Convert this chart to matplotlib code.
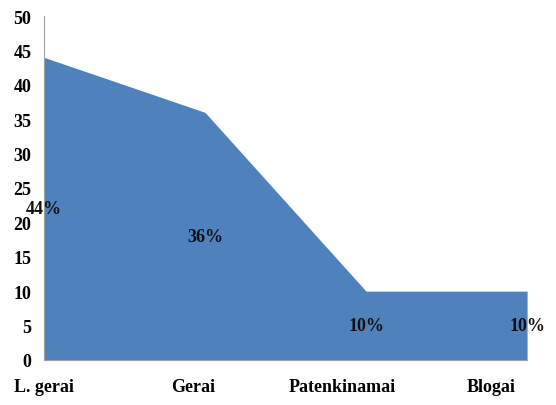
import matplotlib
matplotlib.use('Agg')
import matplotlib.pyplot as plt
import matplotlib.transforms as mtransforms

categories = ['L. gerai', 'Gerai', 'Patenkinamai', 'Blogai']
values = [44, 36, 10, 10]
labels = ['44%', '36%', '10%', '10%']

plt.rcParams['font.family'] = ['Liberation Serif', 'DejaVu Serif']

fig = plt.figure(figsize=(5.56, 4.06), dpi=100)
ax = fig.add_axes([0.079, 0.111, 0.869, 0.847])

x = list(range(len(categories)))
ax.fill_between(x, values, 0, color='#4F81BD', linewidth=0)

# labels sit in the middle of the area
for xi, v, t in zip(x, values, labels):
    ax.text(xi, v / 2, t, ha='center', va='center', fontsize=13,
            fontweight='bold', color='#111111')

ax.set_xlim(0, 3)
ax.set_ylim(0, 50)
ax.set_yticks(range(0, 51, 5))
ax.set_xticks(x)
ax.set_xticklabels(categories)

for s in ['top', 'right']:
    ax.spines[s].set_visible(False)
ax.spines['left'].set_color('#A0A0A0')
ax.spines['bottom'].set_color('#A0A0A0')

ax.tick_params(axis='y', length=0, pad=9, labelsize=13)
ax.tick_params(axis='x', length=0, pad=13, labelsize=13)
for lbl in ax.get_yticklabels():
    lbl.set_fontweight('bold')
# category labels drift left in the original
for i, lbl in enumerate(ax.get_xticklabels()):
    lbl.set_fontweight('bold')
    off = mtransforms.ScaledTranslation(-0.12 * i, 0, fig.dpi_scale_trans)
    lbl.set_transform(lbl.get_transform() + off)

fig.savefig('out.png', dpi=100)
